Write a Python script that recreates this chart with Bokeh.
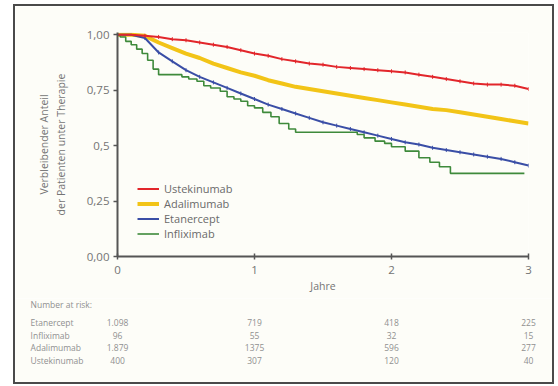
import math
from bokeh.plotting import figure
from bokeh.layouts import column
from bokeh.models import FixedTicker, Legend, LegendItem, Range1d
from bokeh.core.properties import value
from bokeh.embed import file_html
from bokeh.resources import INLINE

# ---- data ----
years = [0.0, 0.1, 0.2, 0.3, 0.4, 0.5, 0.6, 0.7, 0.8, 0.9, 1.0,
         1.1, 1.2, 1.3, 1.4, 1.5, 1.6, 1.7, 1.8, 1.9, 2.0,
         2.1, 2.2, 2.3, 2.4, 2.5, 2.6, 2.7, 2.8, 2.9, 3.0]
ustekinumab = [1.00, 1.00, 0.995, 0.99, 0.98, 0.975, 0.965, 0.955, 0.945, 0.93, 0.915,
               0.905, 0.89, 0.88, 0.87, 0.865, 0.855, 0.85, 0.845, 0.84, 0.835,
               0.83, 0.82, 0.81, 0.80, 0.79, 0.78, 0.775, 0.775, 0.77, 0.755]
adalimumab = [1.00, 1.00, 0.995, 0.965, 0.94, 0.915, 0.895, 0.87, 0.85, 0.83, 0.815,
              0.795, 0.78, 0.765, 0.755, 0.745, 0.735, 0.725, 0.715, 0.705, 0.695,
              0.685, 0.675, 0.665, 0.66, 0.65, 0.64, 0.63, 0.62, 0.61, 0.60]
etanercept = [1.00, 1.00, 0.985, 0.92, 0.88, 0.84, 0.81, 0.785, 0.76, 0.735, 0.71,
              0.685, 0.665, 0.645, 0.625, 0.605, 0.59, 0.575, 0.56, 0.545, 0.53,
              0.515, 0.505, 0.49, 0.48, 0.47, 0.46, 0.45, 0.44, 0.425, 0.41]
infliximab_t = [0.0, 0.02, 0.06, 0.10, 0.14, 0.18, 0.22, 0.26, 0.30, 0.47, 0.52, 0.58,
                0.63, 0.68, 0.75, 0.80, 0.85, 0.90, 0.95, 1.00, 1.06, 1.12, 1.18,
                1.25, 1.30, 1.75, 1.80, 1.88, 1.95, 2.00, 2.10, 2.20, 2.28, 2.35,
                2.43, 2.97]
infliximab_s = [1.00, 0.99, 0.97, 0.955, 0.935, 0.915, 0.885, 0.845, 0.82, 0.81, 0.80, 0.79,
                0.77, 0.76, 0.745, 0.72, 0.71, 0.70, 0.68, 0.67, 0.65, 0.63, 0.60,
                0.575, 0.56, 0.55, 0.535, 0.52, 0.51, 0.495, 0.475, 0.445, 0.425, 0.405,
                0.375, 0.375]

series_names = ["Ustekinumab", "Adalimumab", "Etanercept", "Infliximab"]
series_colors = ["#e2262b", "#f2c417", "#3a4ea6", "#3e8a3b"]

y_ticks = [0.0, 0.25, 0.5, 0.75, 1.0]
y_tick_labels = ["0,00", "0,25", "0,5", "0,75", "1,00"]
x_ticks = [0, 1, 2, 3]

risk_title = "Number at risk:"
risk_groups = ["Etanercept", "Infliximab", "Adalimumab", "Ustekinumab"]
risk_times = [0, 1, 2, 3]
risk_counts = [
    ["1.098", "719", "418", "225"],
    ["96", "55", "32", "15"],
    ["1.879", "1375", "596", "277"],
    ["400", "307", "120", "40"],
]

FONT = "Open Sans"
BG = "#fdfdf8"
TXT = "#747474"
TABLE_TXT = "#909090"

# ---------------- main survival plot ----------------
p = figure(width=537, height=292, output_backend="svg", toolbar_location=None,
           x_range=Range1d(0, 3.0), y_range=Range1d(0, 1.01),
           min_border_left=102, min_border_right=24, min_border_top=26,
           min_border_bottom=42,
           background_fill_color=BG, border_fill_color=BG)
p.outline_line_color = None
p.xgrid.grid_line_color = None
p.ygrid.grid_line_color = None

for ax in (p.xaxis[0], p.yaxis[0]):
    ax.axis_line_color = "#555555"
    ax.axis_line_width = 2
    ax.major_tick_line_color = "#555555"
    ax.major_tick_line_width = 1.5
    ax.minor_tick_line_color = None
    ax.major_label_text_font = FONT
    ax.major_label_text_font_size = "11.5px"
    ax.major_label_text_color = TXT
    ax.axis_label_text_font = FONT
    ax.axis_label_text_font_style = "normal"
    ax.axis_label_text_font_size = "10.5px"
    ax.axis_label_text_color = TXT

p.xaxis.ticker = FixedTicker(ticks=x_ticks)
p.xaxis.major_tick_in = 3
p.xaxis.major_tick_out = 3
p.xaxis.major_label_standoff = 6
p.xaxis.axis_label = "Jahre"
p.xaxis.axis_label_standoff = 2

p.yaxis.ticker = FixedTicker(ticks=y_ticks)
p.yaxis.major_label_overrides = {t: l for t, l in zip(y_ticks, y_tick_labels)}
p.yaxis.major_tick_in = 0
p.yaxis.major_tick_out = 4
p.yaxis.major_label_standoff = 4
p.yaxis.axis_label = "Verbleibender Anteil\nder Patienten unter Therapie"
p.yaxis.axis_label_standoff = 16

r_ada = p.line(years, adalimumab, line_color=series_colors[1], line_width=4)
r_eta = p.line(years, etanercept, line_color=series_colors[2], line_width=2)
p.scatter(years[2:], etanercept[2:], marker="dash", angle=math.pi / 2, size=4,
          line_color=series_colors[2], line_width=1)
r_inf = p.step(infliximab_t, infliximab_s, mode="after", line_color=series_colors[3], line_width=1.6)
r_ust = p.line(years, ustekinumab, line_color=series_colors[0], line_width=2)
p.scatter(years[2:], ustekinumab[2:], marker="dash", angle=math.pi / 2, size=4,
          line_color=series_colors[0], line_width=1)

legend = Legend(items=[LegendItem(label=series_names[0], renderers=[r_ust]),
                       LegendItem(label=series_names[1], renderers=[r_ada]),
                       LegendItem(label=series_names[2], renderers=[r_eta]),
                       LegendItem(label=series_names[3], renderers=[r_inf])],
                location=(20, 15), background_fill_alpha=0, border_line_color=None,
                label_text_font=FONT, label_text_font_size="11px",
                label_text_color="#6a6a6a", glyph_width=22, glyph_height=15,
                label_height=15, label_standoff=5, spacing=0, padding=5, margin=0)
p.add_layout(legend, "center")

# ---------------- number-at-risk table ----------------
# same horizontal scale as the plot above: year columns line up with the x ticks
q = figure(width=537, height=84, output_backend="svg", toolbar_location=None,
           x_range=Range1d(-0.745, 3.175), y_range=Range1d(4.8, -1.92),
           x_axis_type=None, y_axis_type=None,
           min_border_left=0, min_border_right=0, min_border_top=0, min_border_bottom=0,
           background_fill_color=BG, border_fill_color=BG)
try:
    q.frame_align = False
except Exception:
    pass
q.outline_line_color = None
q.xgrid.grid_line_color = None
q.ygrid.grid_line_color = None

label_x = -0.635
title_row = -1.45
rows = list(range(len(risk_groups)))
TSIZE = "8.5px"

q.text(x=[label_x], y=[title_row], text=[risk_title], text_font=value(FONT),
       text_font_size=TSIZE, text_color=TABLE_TXT, text_baseline="middle")
q.text(x=[label_x] * len(rows), y=rows, text=risk_groups, text_font=value(FONT),
       text_font_size=TSIZE, text_color=TABLE_TXT, text_baseline="middle")
cx, cy, ct = [], [], []
for r, counts in zip(rows, risk_counts):
    for t, c in zip(risk_times, counts):
        cx.append(t)
        cy.append(r)
        ct.append(c)
q.text(x=cx, y=cy, text=ct, text_font=value(FONT), text_font_size=TSIZE,
       text_color=TABLE_TXT, text_baseline="middle", text_align="center")

layout = column(p, q, spacing=0,
                styles={"margin-left": "15px", "margin-top": "6px",
                        "outline": "2px solid #4a4a4a"})

open("out.html", "w").write(file_html(layout, INLINE))
